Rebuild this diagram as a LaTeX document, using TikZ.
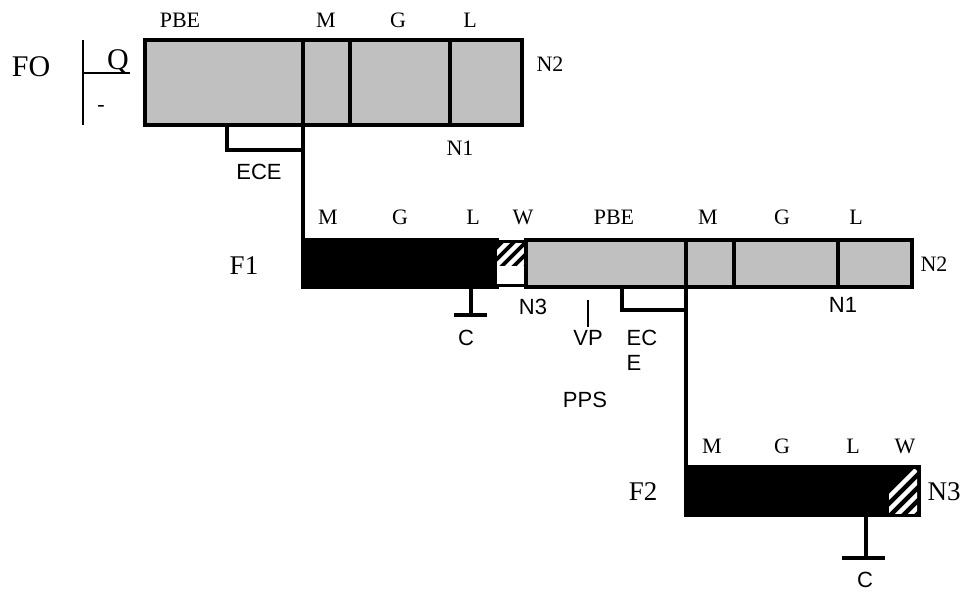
\documentclass[tikz,border=0pt]{standalone}
\usepackage{fontspec}
\setmainfont{Liberation Serif}
\newfontfamily\arialf{Liberation Sans}
\definecolor{segfill}{HTML}{C0C0C0}
\begin{document}
\begin{tikzpicture}[x=1pt,y=-1pt,line width=3.4pt,
  seg/.style={draw=black,fill=segfill},
  blk/.style={draw=black,fill=black},
  wire/.style={draw=black,line width=3.4pt},
  thin/.style={draw=black,line width=1.8pt},
  tl/.style={font=\fontsize{22}{22}\selectfont,inner sep=0pt},
  big/.style={font=\fontsize{30}{30}\selectfont,inner sep=0pt},
  mid/.style={font=\fontsize{27}{27}\selectfont,inner sep=0pt},
  sl/.style={font=\arialf\fontsize{22}{22}\selectfont,inner sep=0pt}]
\useasboundingbox (0,0) rectangle (965,592);
% ---------- FO ----------
\coordinate (fo1) at (145,40);
\coordinate (fo2) at (522,125);
\draw[seg] (fo1) rectangle (fo2);
\coordinate (foM) at (303,40);
\coordinate (foMb) at (303,125);
\draw[wire] (foM) -- (foMb);
\draw[wire] (350,40) -- (350,125);
\draw[wire] (450,40) -- (450,125);
\node[tl] (fopbe) at (180,20) {PBE};
\node[tl] (fom) at (326,20) {M};
\node[tl] (fog) at (398,20) {G};
\node[tl] (fol) at (470,20) {L};
\node[tl] (fon2) at (550,64) {N2};
\node[tl] (fon1) at (460,148) {N1};
\node[big] (fofo) at (31,67) {FO};
\node[big] (foq) at (118,62) {Q};
\node[tl] (fominus) at (101,108) {-};
\coordinate (brt) at (83,40);
\coordinate (brb) at (83,125);
\coordinate (brq) at (130,73);
\draw[thin] (brt) -- (brb);
\draw[thin] (83,73) -- (brq);
% ECE bracket
\coordinate (ece1) at (227,125);
\draw[wire] (ece1) -- (227,150) -- (303,150);
\node[sl] (ecelbl) at (259,172) {ECE};
% ---------- F1 ----------
\coordinate (f1nw) at (303,240);
\draw[wire] (foMb) -- (f1nw);
\draw[blk] (f1nw) rectangle (497,287);
\fill[white] (497,241.7) rectangle (526,285.3);
\begin{scope}
  \clip (497,241.7) rectangle (525,266);
  \fill[black] (497,241.7) rectangle (525,266);
  \foreach \k in {0,...,5} \draw[white,line width=4.5pt] (478+\k*12,272) -- ++(40,-40);
\end{scope}
\draw[wire] (496,241.7) -- (527,241.7);
\draw[wire] (496,285.3) -- (527,285.3);
\draw[seg] (526,240) rectangle (912,287);
\draw[wire] (686,240) -- (686,287);
\draw[wire] (734,240) -- (734,287);
\draw[wire] (838,240) -- (838,287);
\node[tl] (f1m) at (328,217) {M};
\node[tl] (f1g) at (400,217) {G};
\node[tl] (f1l) at (473,217) {L};
\node[tl] (f1w) at (523,217) {W};
\node[tl] (f1pbe) at (614,217) {PBE};
\node[tl] (f1m2) at (708,217) {M};
\node[tl] (f1g2) at (782,217) {G};
\node[tl] (f1l2) at (856,217) {L};
\node[tl] (f1n2) at (934,264) {N2};
\node[mid] (f1lbl) at (244,266) {F1};
\node[sl] (f1n1) at (843,305) {N1};
\node[sl] (f1n3) at (533,307) {N3};
% ground C under F1
\coordinate (c1t) at (471,287);
\coordinate (c1b) at (471,315);
\draw[wire] (c1t) -- (c1b);
\draw[wire] (454,315) -- (487,315);
\node[sl] (c1lbl) at (466,338) {C};
% VP
\coordinate (vpt) at (588,300);
\coordinate (vpb) at (588,327);
\draw[line width=1.1pt] (vpt) -- (vpb);
\node[sl] (vplbl) at (588,338) {VP};
% ECE bracket F1
\coordinate (ece2) at (622,287);
\draw[wire] (ece2) -- (622,310) -- (686,310);
\node[sl,anchor=west] (ec2a) at (625,338) {EC};
\node[sl,anchor=west] (ec2b) at (625,363) {E};
\node[sl] (ppslbl) at (585,400) {PPS};
% ---------- F2 ----------
\coordinate (f1mb) at (686,287);
\coordinate (f2nw) at (686,467);
\draw[wire] (f1mb) -- (f2nw);
\draw[blk] (f2nw) rectangle (919,515);
\begin{scope}
  \clip (889,469) rectangle (917,513);
  \foreach \k in {0,...,4} \draw[white,line width=4.5pt] (866+\k*13,520) -- ++(50,-50);
\end{scope}
\node[tl] (f2m) at (712,446) {M};
\node[tl] (f2g) at (782,446) {G};
\node[tl] (f2l) at (853,446) {L};
\node[tl] (f2w) at (905,446) {W};
\node[mid] (f2lbl) at (643,492) {F2};
\node[mid] (f2n3) at (944,492) {N3};
\coordinate (c2t) at (866,515);
\coordinate (c2b) at (866,558);
\draw[wire] (c2t) -- (c2b);
\draw[wire] (842,558) -- (885,558);
\node[sl] (c2lbl) at (865,580) {C};
\end{tikzpicture}
\end{document}
